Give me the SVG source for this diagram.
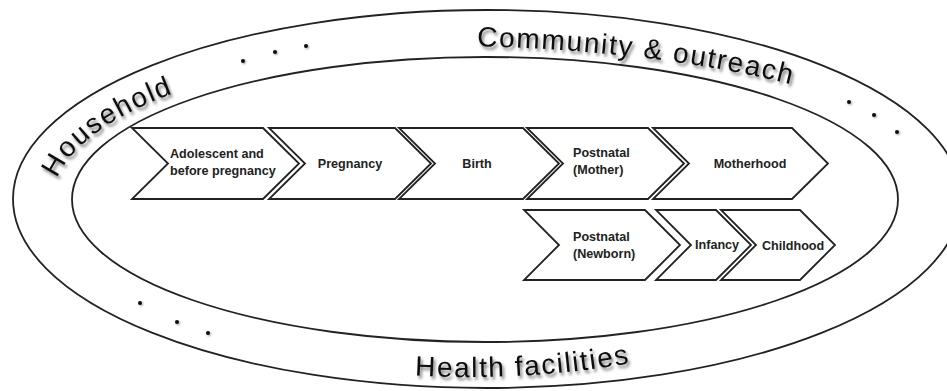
<svg xmlns="http://www.w3.org/2000/svg" width="947" height="391" viewBox="0 0 947 391">
  <style>
    .ring { fill: none; stroke: #222; stroke-width: 1.8; }
    .chev { fill: #fff; stroke: #222; stroke-width: 1.8; stroke-linejoin: miter; }
    .lbl { font-family: "Liberation Sans", Arial, sans-serif; font-weight: bold; font-size: 12.6px; fill: #222; }
    .band { font-family: "Liberation Sans", Arial, sans-serif; font-size: 28px; fill: #111; letter-spacing: 1.65px; filter: url(#shadow); }
    .dot { fill: #111; filter: url(#soft); }
  </style>
  <defs>
    <filter id="shadow" x="-10%" y="-30%" width="120%" height="170%">
      <feDropShadow dx="2" dy="3" stdDeviation="1.6" flood-color="#000" flood-opacity="0.5"/>
    </filter>
    <filter id="soft" x="-100%" y="-100%" width="300%" height="300%">
      <feDropShadow dx="1" dy="1" stdDeviation="1" flood-color="#000" flood-opacity="0.4"/>
    </filter>
    <!-- baselines for the curved band labels -->
    <path id="arcHousehold" d="M 53 200 A 432 154 0 0 1 485 46"/>
    <path id="arcCommunity" d="M 440 46 A 532 154 0 0 1 972 200"/>
    <path id="arcHealth" d="M 300 361.4 A 414 177 0 0 0 884 200"/>
  </defs>

  <rect width="947" height="391" fill="#fff"/>

  <!-- setting rings -->
  <g id="rings">
    <ellipse class="ring" cx="487" cy="199" rx="474" ry="189"/>
    <ellipse class="ring" cx="485" cy="199.5" rx="413" ry="142.5"/>
  </g>

  <!-- band labels -->
  <g id="household">
    <text class="band" font-size="30" letter-spacing="2"><textPath href="#arcHousehold" startOffset="22">Household</textPath></text>
  </g>
  <g id="community">
    <text class="band"><textPath href="#arcCommunity" startOffset="37">Community &amp; outreach</textPath></text>
  </g>
  <g id="health">
    <text class="band" font-size="26" letter-spacing="1.25"><textPath href="#arcHealth" startOffset="116">Health facilities</textPath></text>
  </g>

  <!-- ellipsis dots -->
  <g id="dots">
    <circle class="dot" cx="243" cy="61" r="2"/>
    <circle class="dot" cx="275" cy="52" r="2"/>
    <circle class="dot" cx="306" cy="46" r="2"/>
    <circle class="dot" cx="849" cy="102" r="2"/>
    <circle class="dot" cx="874" cy="115" r="2"/>
    <circle class="dot" cx="897" cy="132" r="2"/>
    <circle class="dot" cx="140" cy="303" r="2"/>
    <circle class="dot" cx="177" cy="322" r="2"/>
    <circle class="dot" cx="208" cy="333" r="2"/>
  </g>

  <!-- life-course stages, row 1 -->
  <g id="adolescent">
    <polygon class="chev" points="132,128 263,128 299,163.5 263,199 132,199 168,163.5"/>
    <text class="lbl" x="170" y="158">Adolescent and</text>
    <text class="lbl" x="170" y="175">before pregnancy</text>
  </g>
  <g id="pregnancy">
    <polygon class="chev" points="269,128 395,128 431,163.5 395,199 269,199 305,163.5"/>
    <text class="lbl" x="350" y="168" text-anchor="middle">Pregnancy</text>
  </g>
  <g id="birth">
    <polygon class="chev" points="399,128 523,128 559,163.5 523,199 399,199 435,163.5"/>
    <text class="lbl" x="477" y="168" text-anchor="middle">Birth</text>
  </g>
  <g id="postnatal-mother">
    <polygon class="chev" points="527,128 648,128 684,163.5 648,199 527,199 563,163.5"/>
    <text class="lbl" x="573" y="157">Postnatal</text>
    <text class="lbl" x="573" y="174">(Mother)</text>
  </g>
  <g id="motherhood">
    <polygon class="chev" points="653,128 792,128 828,163.5 792,199 653,199 689,163.5"/>
    <text class="lbl" x="750" y="168" text-anchor="middle">Motherhood</text>
  </g>

  <!-- life-course stages, row 2 -->
  <g id="postnatal-newborn">
    <polygon class="chev" points="524,210 645,210 680,245 645,280 524,280 559,245"/>
    <text class="lbl" x="573" y="241">Postnatal</text>
    <text class="lbl" x="573" y="258">(Newborn)</text>
  </g>
  <g id="infancy">
    <polygon class="chev" points="656,210 716,210 751,245 716,280 656,280 691,245"/>
    <text class="lbl" x="695" y="249">Infancy</text>
  </g>
  <g id="childhood">
    <polygon class="chev" points="721,210 800,210 835,245 800,280 721,280 756,245"/>
    <text class="lbl" x="762" y="250">Childhood</text>
  </g>

  <g id="connectors"/>
</svg>
